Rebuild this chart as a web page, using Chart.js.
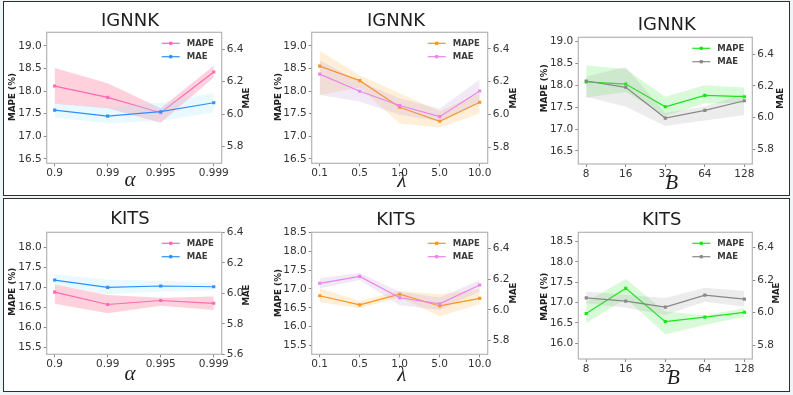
<!DOCTYPE html>
<html>
<head>
<meta charset="utf-8">
<script src="https://cdn.jsdelivr.net/npm/chart.js@4.4.0/dist/chart.umd.min.js"></script>
<style>
  html, body { margin: 0; padding: 0; background: #eef5f8; }
  body { width: 793px; height: 395px; position: relative; overflow: hidden; }
  .box { position: absolute; left: 3px; width: 785px; border: 1.5px solid #2e2e2e; background: #fff; }
  canvas { position: absolute; }
</style>
</head>
<body>
<div class="box" style="top:1px;height:193px"></div>
<div class="box" style="top:197.5px;height:192px"></div>
<canvas id="c1"></canvas>
<canvas id="c2"></canvas>
<canvas id="c3"></canvas>
<canvas id="c4"></canvas>
<canvas id="c5"></canvas>
<canvas id="c6"></canvas>
<script>
// --- categories ---
const alphaLabels = ['0.9', '0.99', '0.995', '0.999'];
const lambdaLabels = ['0.1', '0.5', '1.0', '5.0', '10.0'];
const batchLabels = ['8', '16', '32', '64', '128'];

// --- IGNNK, alpha ---
const ignnkAlphaMape = [18.11, 17.86, 17.52, 18.42];
const ignnkAlphaMapeHi = [18.51, 18.17, 17.62, 18.56];
const ignnkAlphaMapeLo = [17.72, 17.62, 17.30, 18.30];
const ignnkAlphaMae = [6.025, 5.988, 6.015, 6.07];
const ignnkAlphaMaeHi = [6.067, 6.046, 6.07, 6.13];
const ignnkAlphaMaeLo = [5.98, 5.944, 5.96, 6.01];

// --- IGNNK, lambda ---
const ignnkLambdaMape = [18.55, 18.23, 17.64, 17.33, 17.75];
const ignnkLambdaMapeHi = [18.89, 18.35, 17.95, 17.55, 17.95];
const ignnkLambdaMapeLo = [17.91, 18.08, 17.28, 17.19, 17.50];
const ignnkLambdaMae = [6.246, 6.142, 6.056, 5.988, 6.144];
const ignnkLambdaMaeHi = [6.33, 6.20, 6.10, 6.036, 6.214];
const ignnkLambdaMaeLo = [6.12, 6.08, 6.00, 5.96, 6.07];

// --- IGNNK, B ---
const ignnkBatchMape = [18.08, 18.03, 17.51, 17.77, 17.74];
const ignnkBatchMapeHi = [18.46, 18.37, 17.74, 18.00, 17.95];
const ignnkBatchMapeLo = [17.72, 17.85, 17.30, 17.59, 17.59];
const ignnkBatchMae = [6.231, 6.191, 5.996, 6.045, 6.106];
const ignnkBatchMaeHi = [6.26, 6.32, 6.03, 6.07, 6.15];
const ignnkBatchMaeLo = [6.13, 6.07, 5.946, 5.98, 6.015];

// --- KITS, alpha ---
const kitsAlphaMape = [16.89, 16.58, 16.68, 16.61];
const kitsAlphaMapeHi = [17.08, 16.82, 16.75, 16.78];
const kitsAlphaMapeLo = [16.60, 16.36, 16.55, 16.44];
const kitsAlphaMae = [6.087, 6.039, 6.048, 6.043];
const kitsAlphaMaeHi = [6.125, 6.09, 6.08, 6.065];
const kitsAlphaMaeLo = [6.056, 5.996, 6.01, 6.02];

// --- KITS, lambda ---
const kitsLambdaMape = [16.82, 16.58, 16.86, 16.55, 16.75];
const kitsLambdaMapeHi = [17.02, 16.68, 16.95, 16.86, 17.00];
const kitsLambdaMapeLo = [16.65, 16.49, 16.78, 16.27, 16.60];
const kitsLambdaMae = [6.173, 6.218, 6.079, 6.04, 6.162];
const kitsLambdaMaeHi = [6.205, 6.24, 6.118, 6.08, 6.194];
const kitsLambdaMaeLo = [6.14, 6.194, 6.03, 6.00, 6.12];

// --- KITS, B ---
const kitsBatchMape = [16.73, 17.35, 16.53, 16.64, 16.76];
const kitsBatchMapeHi = [17.02, 17.58, 16.78, 16.69, 16.86];
const kitsBatchMapeLo = [16.49, 17.10, 16.22, 16.45, 16.65];
const kitsBatchMae = [6.091, 6.071, 6.034, 6.108, 6.083];
const kitsBatchMaeHi = [6.13, 6.11, 6.09, 6.153, 6.133];
const kitsBatchMaeLo = [6.057, 6.03, 5.985, 6.067, 6.036];

// --- tick labels ---
const ignnkMapeTicks = [16.5, 17.0, 17.5, 18.0, 18.5, 19.0];
const maeTicks = [5.8, 6.0, 6.2, 6.4];
const kitsAlphaMapeTicks = [15.5, 16.0, 16.5, 17.0, 17.5, 18.0];
const kitsAlphaMaeTicks = [5.6, 5.8, 6.0, 6.2, 6.4];
const kitsLambdaMapeTicks = [15.5, 16.0, 16.5, 17.0, 17.5, 18.0, 18.5];
const kitsBatchMapeTicks = [16.0, 16.5, 17.0, 17.5, 18.0, 18.5];

// colour sets per column
const colsAlpha = { mape: '#ff69b4', mapeBand: 'rgba(255,135,165,0.38)', mae: '#2f8fff', maeBand: 'rgba(150,230,245,0.22)' };
const colsLambda = { mape: '#ff9419', mapeBand: 'rgba(255,195,110,0.27)', mae: '#ee82ee', maeBand: 'rgba(190,155,215,0.22)' };
const colsBatch = { mape: '#19e619', mapeBand: 'rgba(110,235,110,0.26)', mae: '#888888', maeBand: 'rgba(160,160,160,0.2)' };

// --- panels: box = canvas [x, y, w, h], area = plot [left, top, right, bottom] ---
const panels = [
  { id: 'c1', title: 'IGNNK', xName: 'α', labels: alphaLabels, colors: colsAlpha,
    mape: ignnkAlphaMape, mapeHi: ignnkAlphaMapeHi, mapeLo: ignnkAlphaMapeLo,
    mae: ignnkAlphaMae, maeHi: ignnkAlphaMaeHi, maeLo: ignnkAlphaMaeLo,
    yTicks: ignnkMapeTicks, yRange: [16.40, 19.30], y1Ticks: maeTicks, y1Range: [5.698, 6.503],
    box: [6, 4, 254, 190], area: [46.7, 32.3, 221.7, 163.3],
    titlePos: [130, 21.5], xPos: [130, 180], yPos: [12.7, 97], y2Pos: [246.7, 98] },
  { id: 'c2', title: 'IGNNK', xName: 'λ', labels: lambdaLabels, colors: colsLambda,
    mape: ignnkLambdaMape, mapeHi: ignnkLambdaMapeHi, mapeLo: ignnkLambdaMapeLo,
    mae: ignnkLambdaMae, maeHi: ignnkLambdaMaeHi, maeLo: ignnkLambdaMaeLo,
    yTicks: ignnkMapeTicks, yRange: [16.40, 19.30], y1Ticks: maeTicks, y1Range: [5.705, 6.50],
    box: [262, 4, 262, 190], area: [311.7, 32.3, 487.7, 163.3],
    titlePos: [396, 21.5], xPos: [401.7, 181], yPos: [278.3, 97], y2Pos: [513.3, 98] },
  { id: 'c3', title: 'IGNNK', xName: 'B', labels: batchLabels, colors: colsBatch,
    mape: ignnkBatchMape, mapeHi: ignnkBatchMapeHi, mapeLo: ignnkBatchMapeLo,
    mae: ignnkBatchMae, maeHi: ignnkBatchMaeHi, maeLo: ignnkBatchMaeLo,
    yTicks: ignnkMapeTicks, yRange: [16.20, 19.10], y1Ticks: maeTicks, y1Range: [5.705, 6.508],
    box: [527, 4, 262, 190], area: [578.3, 37.3, 752.3, 164],
    titlePos: [666.7, 25], xPos: [671.7, 183], yPos: [545, 88.3], y2Pos: [781, 98.3] },
  { id: 'c4', title: 'KITS', xName: 'α', labels: alphaLabels, colors: colsAlpha,
    mape: kitsAlphaMape, mapeHi: kitsAlphaMapeHi, mapeLo: kitsAlphaMapeLo,
    mae: kitsAlphaMae, maeHi: kitsAlphaMaeHi, maeLo: kitsAlphaMaeLo,
    yTicks: kitsAlphaMapeTicks, yRange: [15.335, 18.385], y1Ticks: kitsAlphaMaeTicks, y1Range: [5.6, 6.4],
    box: [6, 200, 254, 190], area: [46.7, 232.3, 221.7, 354.3],
    titlePos: [130, 219], xPos: [130, 374], yPos: [12.7, 291.7], y2Pos: [246.7, 295] },
  { id: 'c5', title: 'KITS', xName: 'λ', labels: lambdaLabels, colors: colsLambda,
    mape: kitsLambdaMape, mapeHi: kitsLambdaMapeHi, mapeLo: kitsLambdaMapeLo,
    mae: kitsLambdaMae, maeHi: kitsLambdaMaeHi, maeLo: kitsLambdaMaeLo,
    yTicks: kitsLambdaMapeTicks, yRange: [15.27, 18.50], y1Ticks: maeTicks, y1Range: [5.712, 6.504],
    box: [262, 200, 262, 190], area: [311.7, 232.3, 487.7, 354.3],
    titlePos: [396, 220], xPos: [401.7, 375], yPos: [278.3, 293], y2Pos: [513.3, 293] },
  { id: 'c6', title: 'KITS', xName: 'B', labels: batchLabels, colors: colsBatch,
    mape: kitsBatchMape, mapeHi: kitsBatchMapeHi, mapeLo: kitsBatchMapeLo,
    mae: kitsBatchMae, maeHi: kitsBatchMaeHi, maeLo: kitsBatchMaeLo,
    yTicks: kitsBatchMapeTicks, yRange: [15.61, 18.73], y1Ticks: maeTicks, y1Range: [5.714, 6.495],
    box: [527, 200, 262, 190], area: [578.3, 232.3, 752.3, 359],
    titlePos: [661.7, 220], xPos: [673.3, 378], yPos: [545, 296.7], y2Pos: [776.7, 293] }
];

Chart.defaults.font.family = '"DejaVu Sans", sans-serif';
Chart.defaults.color = '#333';

// frame round the plot area (all four spines)
const framePlugin = {
  id: 'frame',
  afterDatasetsDraw(chart) {
    const { ctx, chartArea: a } = chart;
    ctx.save();
    ctx.strokeStyle = '#b4b4b4';
    ctx.lineWidth = 1.2;
    ctx.strokeRect(a.left, a.top, a.right - a.left, a.bottom - a.top);
    ctx.restore();
  }
};

// matplotlib-like legend: line with square marker, bold label
const legendPlugin = {
  id: 'mplLegend',
  afterDraw(chart) {
    const { ctx, chartArea: a } = chart;
    const items = chart.data.datasets.filter(d => d.legend).sort((p, q) => p.legendRank - q.legendRank);
    ctx.save();
    items.forEach((d, i) => {
      const y = a.top + 11 + i * 13.4;
      const x1 = a.right - 60, x2 = a.right - 42;
      ctx.strokeStyle = d.borderColor;
      ctx.lineWidth = 1.2;
      ctx.beginPath(); ctx.moveTo(x1, y); ctx.lineTo(x2, y); ctx.stroke();
      ctx.fillStyle = d.borderColor;
      ctx.fillRect((x1 + x2) / 2 - 1.6, y - 1.6, 3.2, 3.2);
      ctx.fillStyle = '#3c3c3c';
      ctx.font = 'bold 8.5px "DejaVu Sans"';
      ctx.textBaseline = 'middle';
      ctx.textAlign = 'left';
      ctx.fillText(d.label, a.right - 35, y + 0.5);
    });
    ctx.restore();
  }
};

// panel texts: title, x name, axis names
const textPlugin = {
  id: 'panelText',
  afterDraw(chart) {
    const p = chart.options.plugins.panelText;
    const { ctx } = chart;
    const [x0, y0] = p.box;
    ctx.save();
    ctx.textAlign = 'center';
    ctx.textBaseline = 'middle';
    ctx.fillStyle = '#1e1e1e';
    ctx.font = '18px "DejaVu Sans"';
    ctx.fillText(p.title, p.titlePos[0] - x0, p.titlePos[1] - y0);
    ctx.font = 'italic 21px "Liberation Serif"';
    ctx.fillText(p.xName, p.xPos[0] - x0, p.xPos[1] - y0);
    ctx.fillStyle = '#222';
    ctx.font = 'bold 8.8px "DejaVu Sans"';
    ctx.translate(p.yPos[0] - x0, p.yPos[1] - y0);
    ctx.rotate(-Math.PI / 2);
    ctx.fillText('MAPE (%)', 0, 0);
    ctx.setTransform(1, 0, 0, 1, 0, 0);
    ctx.font = 'bold 8.5px "DejaVu Sans"';
    ctx.translate(p.y2Pos[0] - x0, p.y2Pos[1] - y0);
    ctx.rotate(-Math.PI / 2);
    ctx.fillText('MAE', 0, 0);
    ctx.restore();
  }
};

const pts = arr => arr.map((v, i) => ({ x: i, y: v }));

function buildPanel(p) {
  const canvas = document.getElementById(p.id);
  const [x0, y0, w, h] = p.box;
  const [l, t, r, b] = p.area;
  canvas.width = w; canvas.height = h;
  canvas.style.left = x0 + 'px'; canvas.style.top = y0 + 'px';
  const c = p.colors;
  const n = p.labels.length;
  const lineDs = (label, data, color, axis, rank) => ({
    label, data: pts(data), yAxisID: axis, borderColor: color, backgroundColor: color,
    borderWidth: 1.2, pointStyle: 'rect', pointRadius: 2.2, pointBorderWidth: 0,
    fill: false, tension: 0, legend: true, legendRank: rank
  });
  const bandDs = (data, color, axis, fill) => ({
    label: '', data: pts(data), yAxisID: axis, borderWidth: 0, borderColor: 'rgba(0,0,0,0)',
    backgroundColor: color, pointRadius: 0, fill: fill, tension: 0
  });
  const tickFont = { size: 10.5 };
  const tickGrid = { drawOnChartArea: false, drawTicks: true, tickLength: 3, color: '#8a8a8a' };

  new Chart(canvas.getContext('2d'), {
    type: 'line',
    data: {
      datasets: [
        lineDs('MAE', p.mae, c.mae, 'y1', 1),
        bandDs(p.maeHi, c.maeBand, 'y1', '+1'),
        bandDs(p.maeLo, c.maeBand, 'y1', false),
        lineDs('MAPE', p.mape, c.mape, 'y', 0),
        bandDs(p.mapeHi, c.mapeBand, 'y', '+1'),
        bandDs(p.mapeLo, c.mapeBand, 'y', false)
      ]
    },
    options: {
      responsive: false, animation: false, devicePixelRatio: 1,
      layout: { padding: { top: t - y0, left: 0, right: 0, bottom: 0 } },
      plugins: {
        legend: { display: false }, tooltip: { enabled: false }, title: { display: false },
        panelText: { box: p.box, title: p.title, xName: p.xName, titlePos: p.titlePos, xPos: p.xPos, yPos: p.yPos, y2Pos: p.y2Pos }
      },
      scales: {
        x: {
          // 5% margin on each side, as matplotlib does
          type: 'linear', min: -0.05 * (n - 1), max: 1.05 * (n - 1),
          afterBuildTicks: s => { s.ticks = p.labels.map((_, i) => ({ value: i })); },
          afterFit: s => { s.height = y0 + h - b; },
          ticks: { font: tickFont, padding: 1, maxRotation: 0, callback: v => p.labels[v] },
          grid: tickGrid, border: { display: false }
        },
        y: {
          position: 'left', min: p.yRange[0], max: p.yRange[1],
          afterBuildTicks: s => { s.ticks = p.yTicks.map(v => ({ value: v })); },
          afterFit: s => { s.width = l - x0; },
          ticks: { font: tickFont, padding: 2, callback: v => v.toFixed(1) },
          grid: tickGrid, border: { display: false }
        },
        y1: {
          position: 'right', min: p.y1Range[0], max: p.y1Range[1],
          afterBuildTicks: s => { s.ticks = p.y1Ticks.map(v => ({ value: v })); },
          afterFit: s => { s.width = x0 + w - r; },
          ticks: { font: tickFont, padding: 2, callback: v => v.toFixed(1) },
          grid: tickGrid, border: { display: false }
        }
      }
    },
    plugins: [framePlugin, legendPlugin, textPlugin]
  });
}

document.addEventListener('DOMContentLoaded', () => {
  panels.forEach(buildPanel);
});
</script>
</body>
</html>
